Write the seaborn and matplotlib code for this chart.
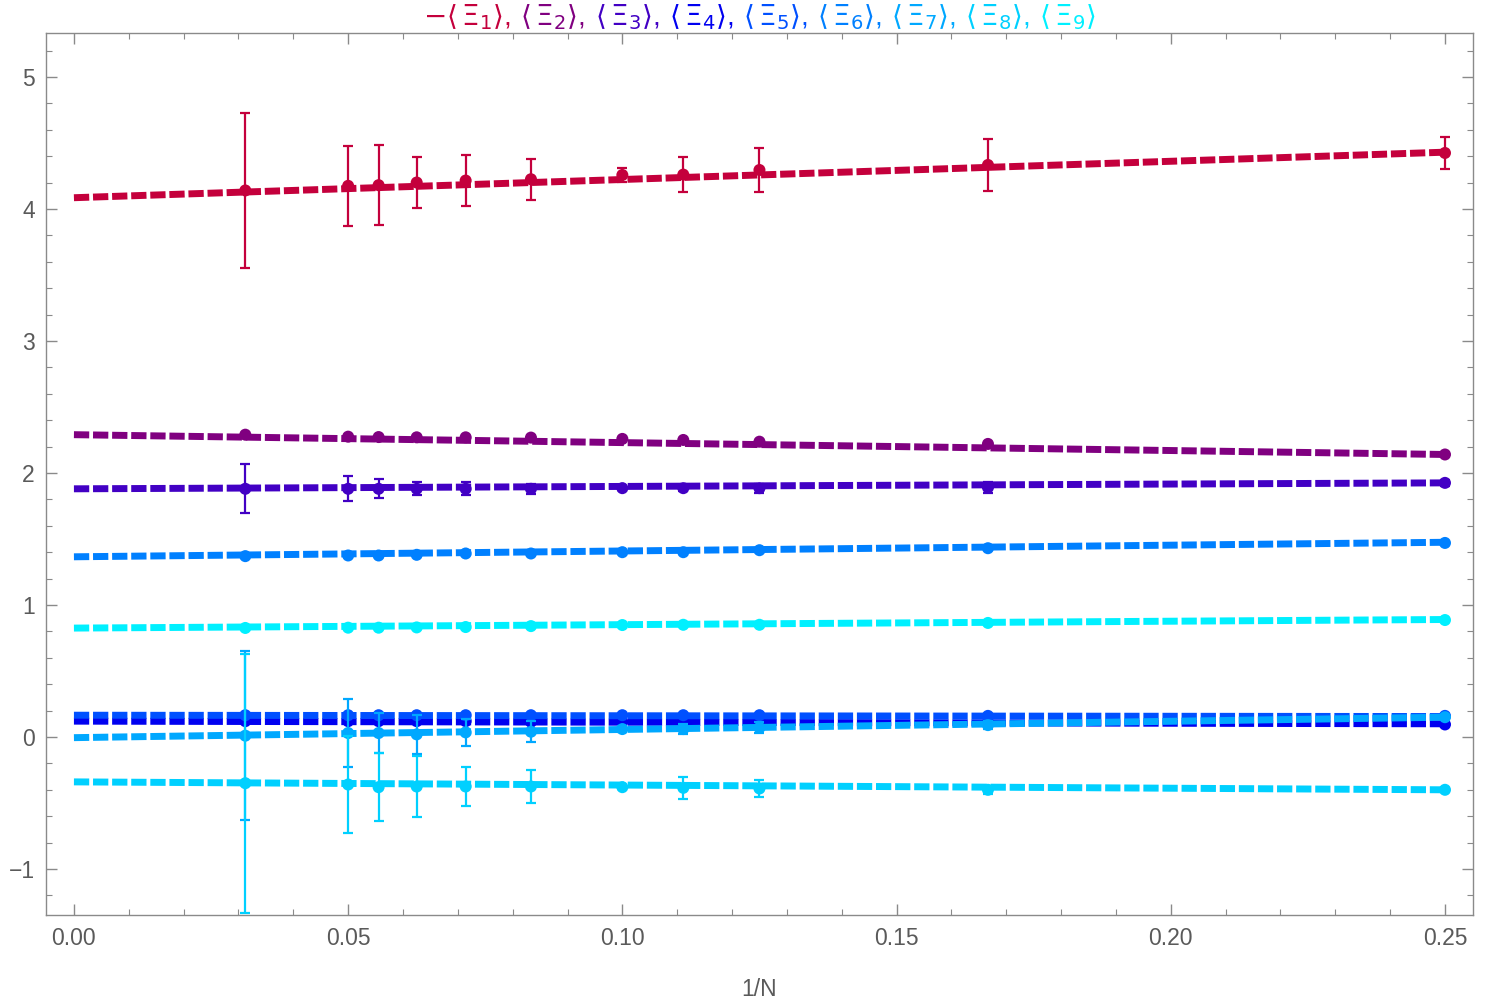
import numpy as np
import pandas as pd
import seaborn as sns
import matplotlib
matplotlib.use("Agg")
import matplotlib.pyplot as plt
from matplotlib.offsetbox import TextArea, HPacker, AnchoredOffsetbox
from matplotlib.ticker import MultipleLocator

# system sizes N, plotted as 1/N
n_sites = [32, 20, 18, 16, 14, 12, 10, 9, 8, 6, 4]

xi1 = [4.14, 4.175, 4.18, 4.20, 4.215, 4.225, 4.257, 4.26, 4.295, 4.333, 4.424]
xi1_err = [0.59, 0.305, 0.305, 0.19, 0.19, 0.155, 0.05, 0.135, 0.165, 0.2, 0.12]
xi2 = [2.29, 2.275, 2.272, 2.27, 2.27, 2.268, 2.258, 2.25, 2.237, 2.22, 2.14]
xi2_err = [0.008] * 11
xi3 = [1.88, 1.88, 1.88, 1.88, 1.88, 1.88, 1.885, 1.885, 1.885, 1.89, 1.925]
xi3_err = [0.185, 0.095, 0.073, 0.05, 0.05, 0.04, 0.012, 0.025, 0.035, 0.045, 0.02]
xi4 = [0.12, 0.12, 0.12, 0.12, 0.12, 0.115, 0.115, 0.115, 0.115, 0.11, 0.095]
xi4_err = [0.01] * 11
xi5 = [0.165, 0.165, 0.165, 0.165, 0.165, 0.165, 0.165, 0.165, 0.165, 0.16, 0.16]
xi5_err = [0.01] * 11
xi6 = [1.37, 1.375, 1.375, 1.38, 1.39, 1.39, 1.40, 1.40, 1.415, 1.43, 1.47]
xi6_err = [0.01] * 11
xi7 = [0.01, 0.03, 0.03, 0.02, 0.035, 0.04, 0.06, 0.06, 0.07, 0.09, 0.15]
xi7_err = [0.64, 0.26, 0.15, 0.15, 0.10, 0.08, 0.02, 0.04, 0.04, 0.03, 0.01]
xi8 = [-0.35, -0.36, -0.38, -0.375, -0.375, -0.375, -0.38, -0.385, -0.39, -0.40, -0.40]
xi8_err = [0.98, 0.37, 0.26, 0.23, 0.15, 0.125, 0.015, 0.085, 0.065, 0.03, 0.01]
xi9 = [0.826, 0.828, 0.828, 0.83, 0.833, 0.84, 0.848, 0.85, 0.85, 0.864, 0.886]
xi9_err = [0.01] * 11

# extrapolation lines: value at 1/N = 0 and at 1/N = 0.25
fit_x = [0.0, 0.25]
fit_start = [4.085, 2.29, 1.88, 0.12, 0.165, 1.365, -0.005, -0.34, 0.825]
fit_end = [4.43, 2.14, 1.925, 0.10, 0.155, 1.475, 0.15, -0.40, 0.89]

colors = ["#C4003C", "#800080", "#4200C4", "#0000F0", "#0050FF",
          "#0080FF", "#00A8FF", "#00D0FF", "#00F0FF"]

series = [xi1, xi2, xi3, xi4, xi5, xi6, xi7, xi8, xi9]
errors = [xi1_err, xi2_err, xi3_err, xi4_err, xi5_err, xi6_err, xi7_err, xi8_err, xi9_err]


def create_plot():
    sns.set_style("ticks")
    plt.rcParams["font.family"] = ["Liberation Sans", "DejaVu Sans"]
    plt.rcParams["mathtext.fontset"] = "dejavusans"

    fig = plt.figure(figsize=(15.07, 10.05), dpi=100)
    ax = fig.add_axes([0.0305, 0.0896, 0.9469, 0.8776])

    x = 1.0 / np.array(n_sites)
    for i in range(9):
        c = colors[i]
        fit = pd.DataFrame({"x": fit_x, "y": [fit_start[i], fit_end[i]]})
        sns.lineplot(data=fit, x="x", y="y", ax=ax, color=c, lw=5,
                     dashes=False, zorder=2 + i * 0.1)
        ax.lines[-1].set_dashes((2.2, 0.55))
        ax.errorbar(x, series[i], yerr=errors[i], fmt="none", ecolor=c,
                    elinewidth=1.6, capsize=3.5, capthick=1.6, zorder=2.05 + i * 0.1)
        pts = pd.DataFrame({"x": x, "y": series[i]})
        sns.scatterplot(data=pts, x="x", y="y", ax=ax, color=c, s=75,
                        edgecolor="none", zorder=2.07 + i * 0.1)

    ax.set_xlim(-0.0051, 0.2551)
    ax.set_ylim(-1.348, 5.333)
    ax.xaxis.set_major_locator(MultipleLocator(0.05))
    ax.xaxis.set_minor_locator(MultipleLocator(0.01))
    ax.yaxis.set_major_locator(MultipleLocator(1))
    ax.yaxis.set_minor_locator(MultipleLocator(0.2))
    ax.set_xticklabels([f"{v:.2f}" for v in ax.get_xticks()])
    ax.set_yticklabels([str(int(v)).replace("-", "\u2212") for v in ax.get_yticks()])

    gray = "#5a5a5a"
    for sp in ax.spines.values():
        sp.set_color("#8a8a8a")
        sp.set_linewidth(1.0)
    ax.tick_params(which="both", direction="in", top=True, right=True,
                   color="#8a8a8a", labelcolor=gray, labelsize=16.5)
    ax.tick_params(which="major", length=8, width=1)
    ax.tick_params(which="minor", length=4.5, width=0.8)
    ax.tick_params(axis="x", pad=9)
    ax.tick_params(axis="y", pad=8)

    ax.set_xlabel("1/N", fontsize=16.5, color=gray, labelpad=20)
    ax.set_ylabel(None)

    # coloured title
    labels = [r"$-\langle\,\Xi_{1}\rangle$,", r"$\langle\,\Xi_{2}\rangle$,",
              r"$\langle\,\Xi_{3}\rangle$,", r"$\langle\,\Xi_{4}\rangle$,",
              r"$\langle\,\Xi_{5}\rangle$,", r"$\langle\,\Xi_{6}\rangle$,",
              r"$\langle\,\Xi_{7}\rangle$,", r"$\langle\,\Xi_{8}\rangle$,",
              r"$\langle\,\Xi_{9}\rangle$"]
    boxes = [TextArea(t, textprops=dict(color=c, fontsize=20)) for t, c in zip(labels, colors)]
    pack = HPacker(children=boxes, align="baseline", pad=0, sep=7)
    title = AnchoredOffsetbox(loc="lower center", child=pack, pad=0, frameon=False,
                              bbox_to_anchor=(0.5, 1.0), bbox_transform=ax.transAxes,
                              borderpad=0.05)
    ax.add_artist(title)

    fig.savefig("out.png", dpi=100)


if __name__ == '__main__':
    create_plot()
